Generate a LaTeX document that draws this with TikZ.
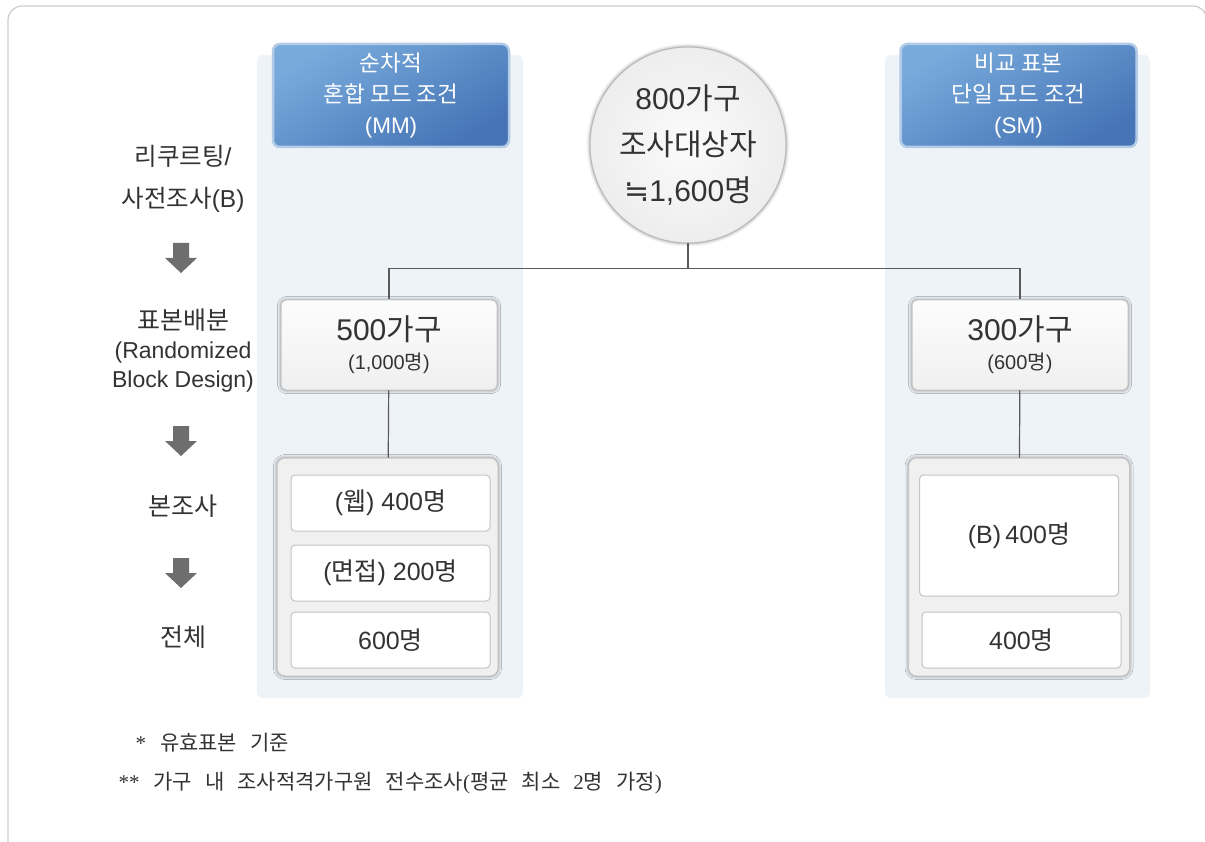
\documentclass[tikz,border=0pt]{standalone}
\usepackage{fontspec}
\setmainfont{Liberation Sans}
\newfontfamily\kr{Noto Sans CJK KR}
\newfontfamily\symf{DejaVu Sans}
\newfontfamily\notef{Liberation Serif}
\newcommand\K[1]{{\kr #1}}
\newcommand\widesp{\spaceskip=0.62em\relax}
\usetikzlibrary{shadows.blur}
\definecolor{txt}{HTML}{333333}
\definecolor{colbg}{HTML}{EEF3F8}
\definecolor{hdrA}{HTML}{78ABDC}
\definecolor{hdrB}{HTML}{4674B6}
\definecolor{hdrline}{HTML}{B3CBE6}
\definecolor{boxline}{HTML}{C4C4C4}
\definecolor{linkc}{HTML}{5A5A5A}
\definecolor{arrc}{HTML}{6E6E6E}

\begin{document}
\begin{tikzpicture}[x=1pt,y=-1pt,
  every node/.style={text=txt},
  halo/.style={blur shadow={shadow xshift=0pt,shadow yshift=0pt,shadow blur radius=3.5pt,shadow opacity=50}},
  hdr/.style={draw=hdrline,line width=2.5pt,rounded corners=7pt,top color=hdrA,bottom color=hdrB,shading angle=30,
    text=white,align=center,minimum width=236pt,minimum height=103pt,font=\fontsize{22.5}{31}\selectfont},
  allocbox/.style={halo,draw=boxline,line width=1pt,rounded corners=5pt,top color=white!98!gray,bottom color=gray!12,
    align=center,minimum width=216pt,minimum height=90pt},
  holder/.style={halo,draw=boxline,line width=1pt,rounded corners=8pt,fill=gray!12,minimum width=221pt,minimum height=218pt},
  cell/.style={draw=boxline,line width=1pt,rounded corners=4pt,fill=white,minimum width=199pt,minimum height=56pt,
    font=\fontsize{25}{28}\selectfont},
  lbl/.style={align=center,font=\fontsize{25}{29}\selectfont},
  link/.style={draw=linkc,line width=1.2pt},
  note/.style={anchor=west,font=\notef\fontsize{21}{24}\selectfont\widesp}]
\useasboundingbox (0,0) rectangle (1205,842);

% frame and columns
\draw[gray!40,line width=1.2pt,rounded corners=14pt] (8,6) rectangle (1207,870);
\fill[colbg,rounded corners=6pt] (257,55) rectangle (523,698);
\fill[colbg,rounded corners=6pt] (885,55) rectangle (1150,698);

\node[hdr] (mm) at (391,95.5) {\K{순차적}\\\K{혼합 모드 조건}\\(MM)};
\node[hdr] (sm) at (1018.5,95.5) {\K{비교 표본}\\\K{단일 모드 조건}\\(SM)};

\node[halo,circle,draw=gray!55,line width=1pt,inner color=white!97!gray,outer color=gray!14,minimum size=196pt,
  align=center,font=\fontsize{30}{46}\selectfont] (total) at (688,145) {800\K{가구}\\\K{조사대상자}\\{\symf ≒}1,600\K{명}};

\node[allocbox] (mmalloc) at (389,345) {{\fontsize{30}{33}\selectfont 500\K{가구}}\\[9pt]{\fontsize{20}{22}\selectfont (1,000\K{명})}};
\node[allocbox] (smalloc) at (1020,345) {{\fontsize{30}{33}\selectfont 300\K{가구}}\\[9pt]{\fontsize{20}{22}\selectfont (600\K{명})}};

\node[holder] (mmmain) at (387.5,567) {};
\node[holder] (smmain) at (1019,567) {};

\node[cell] (web) at (390.5,503) {(\K{웹}) 400\K{명}};
\node[cell] (face) at (390.5,573) {(\K{면접}) 200\K{명}};
\node[cell] (mmsum) at (390.5,640) {600\K{명}};
\node[cell,minimum height=121pt] (smb) at (1019,535.5) {(B)\,400\K{명}};
\node[cell] (smsum) at (1021.5,640) {400\K{명}};

\draw[link] (total.south) -- ++(0,25) -| (mmalloc.north);
\draw[link] (total.south) -- ++(0,25) -| (smalloc.north);
\draw[link] (mmalloc) -- (mmmain);
\draw[link] (smalloc) -- (smmain);

% stages on the left
\node[lbl,font=\fontsize{24.5}{42}\selectfont] (recruit) at (183,179) {\K{리쿠르팅}/\\\K{사전조사}(B)};
\node[lbl] (assign) at (183,351) {\K{표본배분}\\{\fontsize{23}{29}\selectfont(Randomized}\\{\fontsize{23}{29}\selectfont Block Design)}};
\node[lbl] (main) at (183,506) {\K{본조사}};
\node[lbl] (all) at (183,637) {\K{전체}};
\foreach \y in {243,426,558}
  \fill[arrc] (173,\y) -- (189,\y) -- (189,\y+15) -- (197,\y+15) -- (181,\y+30) -- (165,\y+15) -- (173,\y+15) -- cycle;

\node[note] (n1) at (132,743) {*\hspace{14pt}\K{유효표본 기준}};
\node[note] (n2) at (115,783) {**\hspace{14pt}\K{가구 내 조사적격가구원 전수조사}(\K{평균 최소} 2\K{명 가정})};
\end{tikzpicture}
\end{document}
